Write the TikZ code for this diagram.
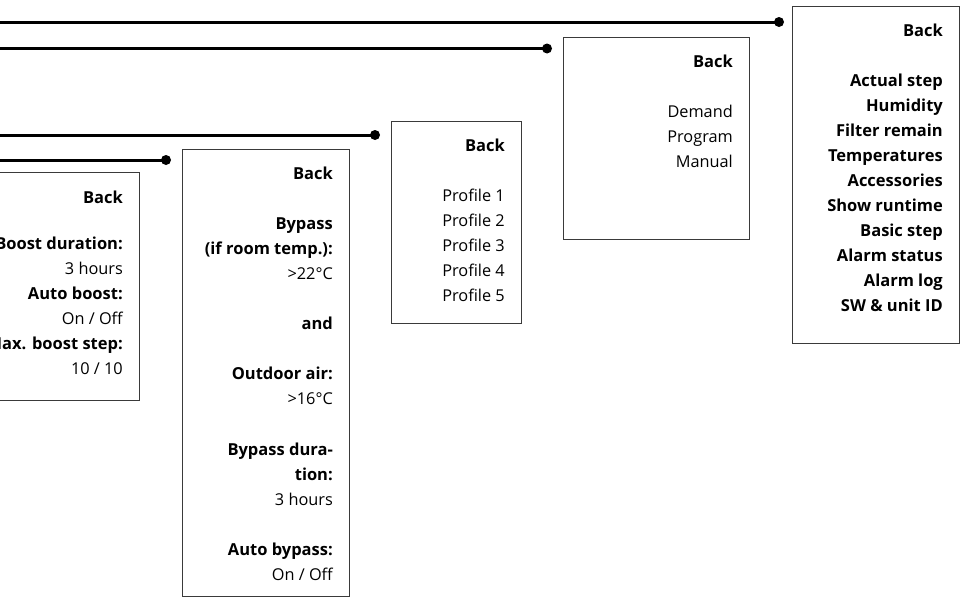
\documentclass[tikz,border=0pt]{standalone}
\usepackage{fontspec}
\setmainfont{Open Sans}
\definecolor{boxgray}{HTML}{3A3A3A}
\begin{document}
\begin{tikzpicture}[x=1pt,y=-1pt,
  menubox/.style={draw=boxgray, line width=1.1pt, inner sep=0pt, anchor=north west},
  conn/.style={line width=3pt, draw=black},
  enddot/.style={circle, fill=black, inner sep=0pt, minimum size=10pt},
  itm/.style={anchor=base east, inner sep=0pt, font=\fontsize{16.3}{20}\selectfont},
  bitm/.style={itm, font=\fontsize{16.5}{20}\selectfont\bfseries}]
\useasboundingbox (0,0) rectangle (960,597);

% boxes
\node[menubox, minimum width=189pt, minimum height=228pt] (boxA) at (-50,172) {};
\node[menubox, minimum width=167pt, minimum height=447pt] (boxB) at (182,149) {};
\node[menubox, minimum width=130pt, minimum height=202pt] (boxC) at (391,121) {};
\node[menubox, minimum width=186pt, minimum height=202pt] (boxD) at (563,37) {};
\node[menubox, minimum width=167pt, minimum height=337pt] (boxE) at (792,6) {};

% connectors
\coordinate (s1) at (0,22);
\coordinate (s2) at (0,48.5);
\coordinate (s3) at (0,135);
\coordinate (s4) at (0,160);
\node[enddot] (d1) at (779,22) {};
\node[enddot] (d2) at (547,48.5) {};
\node[enddot] (d3) at (375,135) {};
\node[enddot] (d4) at (166,160) {};
\draw[conn] (s1) -- (d1.center);
\draw[conn] (s2) -- (d2.center);
\draw[conn] (s3) -- (d3.center);
\draw[conn] (s4) -- (d4.center);

% box A
\node[bitm] (a0) at (123,203.5) {Back};
\node[bitm] (a1) at (123,249) {Boost duration:};
\node[itm]  (a2) at (123,274) {3 hours};
\node[bitm] (a3) at (123,299) {Auto boost:};
\node[itm]  (a4) at (123,324) {On / Off};
\node[bitm] (a5) at (123,349) {Max. boost step:};
\node[itm]  (a6) at (123,374) {10 / 10};

% box B
\node[bitm] (b0) at (333,179) {Back};
\node[bitm] (b1) at (333,229.2) {Bypass};
\node[bitm] (b2) at (333,254.3) {(if room temp.):};
\node[itm]  (b3) at (333,279.4) {>22°C};
\node[bitm] (b4) at (333,329.6) {and};
\node[bitm] (b5) at (333,379.8) {Outdoor air:};
\node[itm]  (b6) at (333,404.9) {>16°C};
\node[bitm] (b7) at (333,455.1) {Bypass dura-};
\node[bitm] (b8) at (333,480.2) {tion:};
\node[itm]  (b9) at (333,505.3) {3 hours};
\node[bitm] (b10) at (333,555.5) {Auto bypass:};
\node[itm]  (b11) at (333,580.6) {On / Off};

% box C
\node[bitm] (c0) at (505,151) {Back};
\node[itm] (c1) at (505,201.5) {Profile 1};
\node[itm] (c2) at (505,226.6) {Profile 2};
\node[itm] (c3) at (505,251.7) {Profile 3};
\node[itm] (c4) at (505,276.8) {Profile 4};
\node[itm] (c5) at (505,301.9) {Profile 5};

% box D
\node[bitm] (e0) at (733,67) {Back};
\node[itm] (e1) at (733,117) {Demand};
\node[itm] (e2) at (733,142) {Program};
\node[itm] (e3) at (733,167) {Manual};

% box E
\node[bitm] (f0) at (943,36) {Back};
\node[bitm] (f1) at (943,86) {Actual step};
\node[bitm] (f2) at (943,111.1) {Humidity};
\node[bitm] (f3) at (943,136.2) {Filter remain};
\node[bitm] (f4) at (943,161.3) {Temperatures};
\node[bitm] (f5) at (943,186.4) {Accessories};
\node[bitm] (f6) at (943,211.5) {Show runtime};
\node[bitm] (f7) at (943,236.6) {Basic step};
\node[bitm] (f8) at (943,261.7) {Alarm status};
\node[bitm] (f9) at (943,286.8) {Alarm log};
\node[bitm] (f10) at (943,311.9) {SW \& unit ID};
\end{tikzpicture}
\end{document}
